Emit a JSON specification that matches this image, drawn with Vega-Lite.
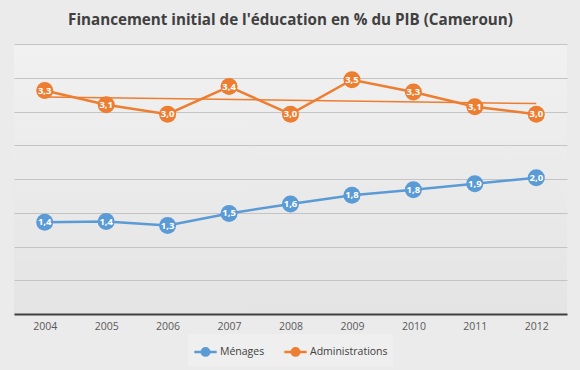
{
  "$schema": "https://vega.github.io/schema/vega-lite/v6.json",
  "width": 580,
  "height": 370,
  "autosize": {"type": "fit", "contains": "padding"},
  "padding": {"left": 14, "right": 13, "top": 12, "bottom": 4},
  "background": "#ebebeb",
  "title": {
    "text": "Financement initial de l'éducation en % du PIB (Cameroun)",
    "font": "Open Sans",
    "fontSize": 15.2,
    "fontWeight": "bold",
    "color": "#404040",
    "offset": 16
  },
  "data": {
    "values": [
      {"year": 2004, "serie": "Ménages", "value": 1.36},
      {"year": 2005, "serie": "Ménages", "value": 1.37},
      {"year": 2006, "serie": "Ménages", "value": 1.31},
      {"year": 2007, "serie": "Ménages", "value": 1.49},
      {"year": 2008, "serie": "Ménages", "value": 1.63},
      {"year": 2009, "serie": "Ménages", "value": 1.76},
      {"year": 2010, "serie": "Ménages", "value": 1.84},
      {"year": 2011, "serie": "Ménages", "value": 1.93},
      {"year": 2012, "serie": "Ménages", "value": 2.02},
      {"year": 2004, "serie": "Administrations", "value": 3.31},
      {"year": 2005, "serie": "Administrations", "value": 3.1},
      {"year": 2006, "serie": "Administrations", "value": 2.96},
      {"year": 2007, "serie": "Administrations", "value": 3.37},
      {"year": 2008, "serie": "Administrations", "value": 2.96},
      {"year": 2009, "serie": "Administrations", "value": 3.47},
      {"year": 2010, "serie": "Administrations", "value": 3.29},
      {"year": 2011, "serie": "Administrations", "value": 3.07},
      {"year": 2012, "serie": "Administrations", "value": 2.96}
    ]
  },
  "encoding": {
    "x": {
      "field": "year",
      "type": "ordinal",
      "scale": {"type": "point", "padding": 0.5},
      "axis": {
        "title": null,
        "labelAngle": 0,
        "ticks": false,
        "domainColor": "#404040",
        "domainWidth": 2,
        "labelColor": "#595959",
        "labelFont": "Open Sans",
        "labelFontSize": 10.5,
        "labelPadding": 7,
        "grid": false
      }
    },
    "y": {
      "field": "value",
      "type": "quantitative",
      "scale": {"domain": [0, 4]},
      "axis": {
        "title": null,
        "labels": false,
        "ticks": false,
        "domain": false,
        "values": [0, 0.5, 1, 1.5, 2, 2.5, 3, 3.5, 4],
        "gridColor": "#c4c4c4",
        "gridWidth": 1
      }
    }
  },
  "layer": [
    {
      "transform": [
        {"filter": "datum.serie === 'Administrations'"},
        {"regression": "value", "on": "year"}
      ],
      "mark": {"type": "line", "color": "#ed7d31", "strokeWidth": 1.5}
    },
    {
      "mark": {"type": "line", "strokeWidth": 2.5},
      "encoding": {
        "color": {
          "field": "serie",
          "type": "nominal",
          "sort": ["Ménages", "Administrations"],
          "scale": {"domain": ["Ménages", "Administrations"], "range": ["#5b9bd5", "#ed7d31"]},
          "legend": {
            "title": null,
            "orient": "bottom",
            "direction": "horizontal",
            "fillColor": "#efefef",
            "padding": 5,
            "offset": 2,
            "labelFont": "Open Sans",
            "labelFontSize": 10.5,
            "labelColor": "#404040",
            "symbolType": "M-1,0H1M0.33,0A0.33,0.33,0,1,1,-0.33,0A0.33,0.33,0,1,1,0.33,0",
            "symbolSize": 500,
            "symbolStrokeWidth": 2.5,
            "columnPadding": 14,
            "labelOffset": 2,
            "encode": {
              "symbols": {"update": {"fill": {"scale": "color", "field": "value"}, "stroke": {"scale": "color", "field": "value"}}}
            }
          }
        }
      }
    },
    {
      "mark": {"type": "point", "filled": true, "size": 290, "opacity": 1},
      "encoding": {
        "color": {"field": "serie", "type": "nominal", "legend": null}
      }
    },
    {
      "mark": {"type": "text", "color": "white", "fontWeight": "bold", "fontSize": 9.5, "font": "Open Sans"},
      "encoding": {
        "text": {"field": "value", "type": "quantitative", "format": ".1f"}
      }
    }
  ],
  "config": {
    "locale": {"number": {"decimal": ",", "thousands": "", "grouping": [3], "currency": ["", ""]}},
    "view": {
      "stroke": null,
      "fill": {
        "gradient": "linear",
        "x1": 0, "y1": 0, "x2": 0, "y2": 1,
        "stops": [{"offset": 0, "color": "#f1f1f1"}, {"offset": 1, "color": "#e4e4e4"}]
      }
    },
    "legend": {"layout": {"bottom": {"anchor": "middle"}}}
  }
}
